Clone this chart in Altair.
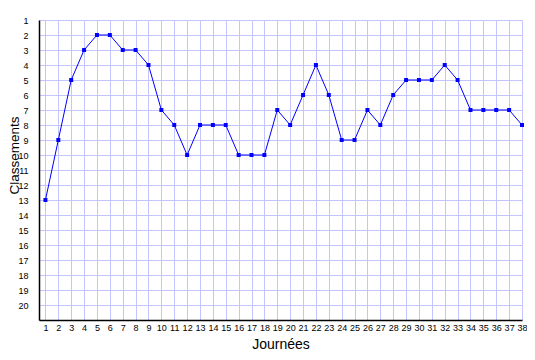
import altair as alt
import pandas as pd

journees = list(range(1, 39))
classements = [13, 9, 5, 3, 2, 2, 3, 3, 4, 7, 8, 10, 8, 8, 8, 10, 10, 10, 7, 8,
               6, 4, 6, 9, 9, 7, 8, 6, 5, 5, 5, 4, 5, 7, 7, 7, 7, 8]
y_ticks = list(range(1, 21))

df = pd.DataFrame({"Journées": journees, "Classements": classements})

font = "Liberation Sans"

x_enc = alt.X("Journées:Q",
              scale=alt.Scale(domain=[0.5, 38], nice=False, zero=False),
              axis=alt.Axis(values=journees, grid=True, gridColor="#c4c4ff", gridOpacity=1,
                            ticks=False, labelPadding=3, labelFontSize=9, labelFont=font,
                            labelColor="#000000", labelFlush=False, labelOverlap=False,
                            tickCount=38,
                            domainColor="#000000", domainWidth=1.5,
                            title="Journées", titleFont=font, titleFontSize=14,
                            titleFontWeight="normal", titleColor="#000000",
                            titleY=17, titleBaseline="top"))
y_enc = alt.Y("Classements:Q",
              scale=alt.Scale(domain=[1, 21], reverse=True, nice=False, zero=False),
              axis=alt.Axis(values=y_ticks, grid=True, gridColor="#c4c4ff", gridOpacity=1,
                            ticks=False, labelPadding=11, labelFontSize=9, labelFont=font,
                            labelColor="#000000", labelFlush=False, labelOverlap=False,
                            tickCount=20,
                            domainColor="#000000", domainWidth=1.5,
                            title="Classements", titleFont=font, titleFontSize=13.5,
                            titleFontWeight="normal", titleColor="#000000",
                            titleAngle=-90, titleX=-21, titleY=135,
                            titleBaseline="alphabetic", titleAlign="center"))

line = alt.Chart(df).mark_line(color="#0000ff", strokeWidth=1).encode(x=x_enc, y=y_enc)
pts = alt.Chart(df).mark_point(shape="square", filled=True, color="#0000ff",
                               size=16, opacity=1).encode(x="Journées:Q", y="Classements:Q")

chart = (line + pts).properties(
    width=483, height=300,
    autosize=alt.AutoSizeParams(type="none"),
    padding={"left": 31, "top": 12, "right": 5, "bottom": 30},
).configure_view(stroke=None)

chart.save("out.html", embed_options={"renderer": "svg", "actions": False})
